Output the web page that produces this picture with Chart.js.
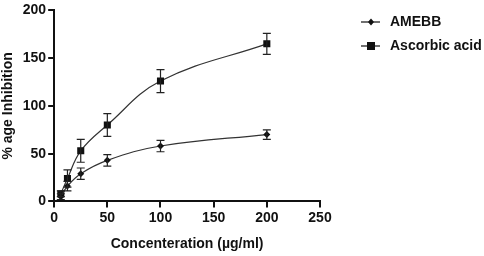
<!DOCTYPE html>
<html>
<head>
<meta charset="utf-8">
<script src="https://cdn.jsdelivr.net/npm/chart.js@4/dist/chart.umd.min.js"></script>
<style>
  html, body { margin: 0; padding: 0; background: #fff; }
  #wrap { width: 484px; height: 256px; position: relative; }
</style>
</head>
<body>
<div id="wrap"><canvas id="chart"></canvas></div>
<script>
// concentrations (µg/ml)
const concentrations = [6.25, 12.5, 25, 50, 100, 200];

// % inhibition, mean and error
const amebbValues = [5, 16, 29, 43, 58, 70];
const amebbErrors = [3, 5, 6, 6, 6, 5];
const ascorbicValues = [8, 24, 53, 80, 126, 165];
const ascorbicErrors = [3, 9, 12, 12, 12, 11];

const seriesNames = ['AMEBB', 'Ascorbic acid'];

const font = 'Liberation Sans, Arial, sans-serif';

function toPoints(xs, ys, errs) {
    return xs.map((x, i) => ({ x: x, y: ys[i], err: errs[i] }));
}

// error bars drawn through the chart scales
const errorBars = {
    id: 'errorBars',
    afterDatasetsDraw(chart) {
        const ctx = chart.ctx;
        const xs = chart.scales.x, ys = chart.scales.y;
        ctx.save();
        ctx.strokeStyle = '#222';
        ctx.lineWidth = 1.2;
        chart.data.datasets.forEach(ds => {
            ds.data.forEach(p => {
                const px = xs.getPixelForValue(p.x);
                const top = ys.getPixelForValue(p.y + p.err);
                const bot = ys.getPixelForValue(p.y - p.err);
                ctx.beginPath();
                ctx.moveTo(px, top); ctx.lineTo(px, bot);
                ctx.moveTo(px - 4, top); ctx.lineTo(px + 4, top);
                ctx.moveTo(px - 4, bot); ctx.lineTo(px + 4, bot);
                ctx.stroke();
            });
        });
        ctx.restore();
    }
};

// legend on the right: short line with marker, then label
const sideLegend = {
    id: 'sideLegend',
    afterDraw(chart) {
        const ctx = chart.ctx;
        ctx.save();
        ctx.font = 'bold 14px ' + font;
        ctx.textBaseline = 'middle';
        ctx.fillStyle = '#111';
        const rows = [22, 46];
        chart.data.datasets.forEach((ds, i) => {
            const y = rows[i];
            ctx.strokeStyle = '#111';
            ctx.lineWidth = 1.2;
            ctx.beginPath();
            ctx.moveTo(361, y); ctx.lineTo(380, y);
            ctx.stroke();
            ctx.beginPath();
            if (ds.pointStyle === 'rect') {
                ctx.rect(367, y - 4, 8, 8);
            } else {
                ctx.moveTo(371, y - 3.5); ctx.lineTo(374, y);
                ctx.lineTo(371, y + 3.5); ctx.lineTo(368, y);
                ctx.closePath();
            }
            ctx.fill();
            ctx.fillText(ds.label, 390, y);
        });
        ctx.restore();
    }
};

const tickFont = { family: font, size: 14, weight: 'bold' };

new Chart(document.getElementById('chart'), {
    type: 'scatter',
    data: {
        datasets: [
            {
                label: seriesNames[0],
                data: toPoints(concentrations, amebbValues, amebbErrors),
                showLine: true,
                tension: 0.4,
                borderColor: '#333',
                borderWidth: 1.2,
                backgroundColor: '#111',
                pointStyle: 'rectRot',
                pointRadius: 3.5,
                pointBorderWidth: 0
            },
            {
                label: seriesNames[1],
                data: toPoints(concentrations, ascorbicValues, ascorbicErrors),
                showLine: true,
                tension: 0.4,
                borderColor: '#333',
                borderWidth: 1.2,
                backgroundColor: '#111',
                pointStyle: 'rect',
                pointRadius: 5,
                pointBorderWidth: 0
            }
        ]
    },
    options: {
        responsive: true,
        maintainAspectRatio: false,
        animation: false,
        layout: { padding: { top: 9, right: 164, left: 0, bottom: 3 } },
        plugins: {
            legend: { display: false },
            tooltip: { enabled: false }
        },
        scales: {
            x: {
                type: 'linear',
                min: 0,
                max: 250,
                ticks: { stepSize: 50, color: '#111', font: tickFont, padding: 2 },
                grid: { drawOnChartArea: false, drawTicks: true, tickLength: 6, color: '#111', lineWidth: 2 },
                border: { color: '#111', width: 2 },
                title: { display: true, text: 'Concenteration (µg/ml)', color: '#111', font: tickFont, padding: { top: 8, bottom: 0 } }
            },
            y: {
                min: 0,
                max: 200,
                ticks: { stepSize: 50, color: '#111', font: tickFont, padding: 2 },
                grid: { drawOnChartArea: false, drawTicks: true, tickLength: 6, color: '#111', lineWidth: 2 },
                border: { color: '#111', width: 2 },
                title: { display: true, text: '% age Inhibition', color: '#111', font: tickFont, padding: { top: 0, bottom: 4 } }
            }
        }
    },
    plugins: [errorBars, sideLegend]
});
</script>
</body>
</html>
